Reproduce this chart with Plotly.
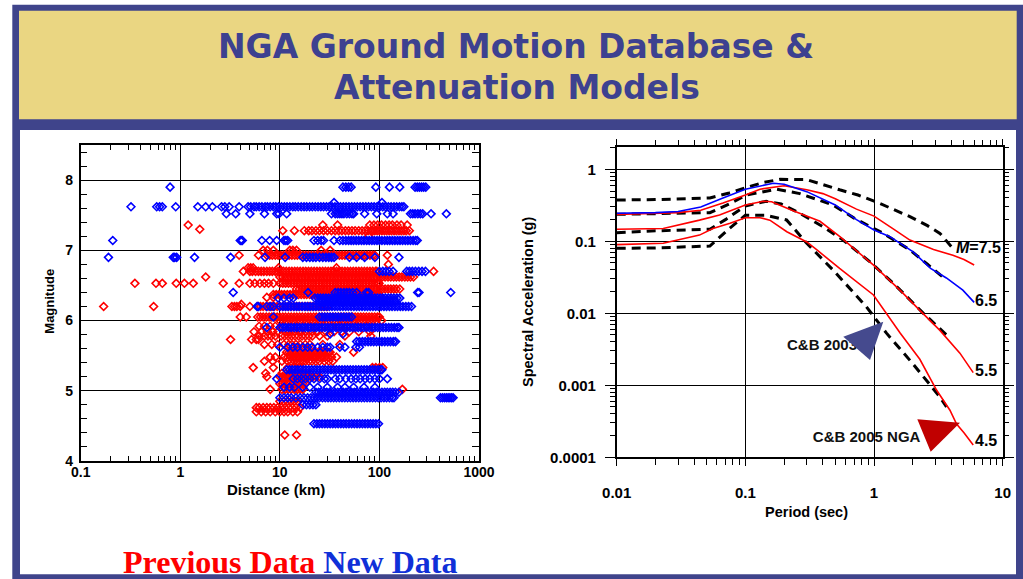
import plotly.graph_objects as go

W, H = 1023, 579
def px(x): return x / W
def py(y): return 1 - y / H

# ---------------- Left chart data: (magnitude, [distances km]) ----------------
red_events = [
    (7.36, [1.2, 27, 38, 80, 88, 96, 105, 115, 125, 135, 150, 165, 190]),
    (7.30, [1.57]),
    (7.28, [10.7, 14, 17.6, 19.5, 21, 23, 25, 27.5, 30, 33, 36, 39, 42, 45.5, 49, 53, 57, 62, 67, 72, 77, 82, 86, 90, 95, 100, 106, 112, 118, 125, 132, 140, 148, 157, 166, 176, 186, 200]),
    (7.20, [78]),
    (7.00, [6.8, 7.5, 8.6, 12.6, 13.5, 14.7, 26, 32]),
    (6.93, [3.9, 6.1, 7.4, 7.9, 8.4, 9.0, 9.6, 10.2, 10.9, 11.6, 12.4, 13.2, 14.1, 15, 16, 17.1, 18.2, 19.4, 20.7, 22.1, 23.6, 25.2, 26.9, 28.7, 30.6, 32.6, 34.8, 37.1, 39.6, 42.2, 45, 48, 51.2, 54.6, 58.2, 62.1, 66.2, 70.6, 75.3, 80.3, 85.6, 90, 120]),
    (6.80, [123]),
    (6.75, [4.8, 5.1, 5.4, 9.7, 37]),
    (6.70, [4.3, 5.0, 5.3, 5.7, 6.1, 6.5, 6.9, 7.4, 7.9, 8.4, 9.0, 9.6, 10.2, 10.9, 11.6, 12.4, 13.2, 14.1, 15, 16, 17.1, 18.2, 19.4, 20.7, 22.1, 23.6, 25.2, 26.9, 28.7, 30.6, 32.6, 34.8, 37.1, 39.6, 42.2, 45, 48, 51.2, 54.6, 58.2, 62.1, 66.2, 70.6, 75.3, 80.3, 85.6, 91.3, 94, 350]),
    (6.62, [1.8, 10, 10.7, 11.4, 12.1, 12.9, 13.8, 14.7, 15.7, 16.7, 17.8, 19, 20.3, 21.6, 23, 24.6, 26.2, 27.9, 29.8, 31.8, 33.9, 36.1, 38.5, 41, 43.7, 46.6, 49.7, 53, 56.5, 60.2, 64.2, 68.5, 73, 77.8, 83, 88.5, 94.3, 101, 107, 114, 122, 130, 139, 148, 158, 168, 180, 192, 205, 220]),
    (6.53, [0.35, 0.57, 0.66, 0.91, 1.1, 1.35, 2.7, 3.9, 5.0, 5.6, 6.3, 7.0, 7.7, 8.6, 10, 10.7, 11.4, 12.2, 13, 13.8, 14.8, 15.8, 16.8, 17.9, 19.1, 20.4, 21.7, 23.2, 24.7, 26.3, 28.1, 29.9, 31.9, 34, 36.3, 38.7, 41.2, 44, 46.9, 50, 53.3, 56.8, 60.6, 64.6, 68.9, 73.4, 78.3, 83.5, 89, 94.9, 99]),
    (6.45, [14.7, 15.7, 16.7, 17.8, 19, 20.3, 21.6, 23, 24.6, 26.2, 27.9, 29.8, 31.8, 33.9, 36.1, 38.5, 41, 43.7, 46.6, 49.7, 53, 56.5, 60.2, 64.2, 68.5, 73, 77.8, 83, 88.5, 94.3, 101, 107, 114, 122, 130, 139, 148, 160]),
    (6.37, [8.6, 9.2, 9.8, 10.4, 11.1, 11.9, 12.7, 13.5, 14.4, 15.4, 16.4, 17.5, 18.6, 19.9, 21.2, 22.6, 24.1, 25.7, 27.4, 29.2, 31.1, 33.2, 35.4, 37.7, 40.2, 42.9, 45.7, 48.7, 52, 55.4, 59.1, 63, 67.2, 71.6, 76.4, 81.4, 86.8, 92.6, 98.7]),
    (6.33, [7.4, 8.6]),
    (6.23, [4.1]),
    (6.20, [0.17, 0.54, 3.3, 3.5, 3.7, 4.0, 5.0, 6.0, 6.4, 6.8, 7.3, 7.8, 8.3, 8.8, 9.4, 10, 10.7, 11.4, 12.2, 13, 13.9, 14.8, 15.8, 16.8, 18, 19.2, 20.4, 21.8, 23.2, 24.8, 26.4, 28.2, 30]),
    (6.05, [4.0, 4.6, 6.0, 6.4, 6.8, 7.3, 7.8, 8.3, 8.8, 9.4, 10, 10.7, 11.4, 12.2, 13, 13.9, 14.8, 15.8, 16.8, 18, 19.2, 20.4, 21.8, 23.2, 24.8, 26.4, 28.2, 30, 32, 34.2, 36.4, 38.9, 41.4, 44.2, 47.1, 50.2, 53.6, 57.1, 60.9, 65, 69.3, 73.9, 78.8, 84, 89.6, 95.5, 100]),
    (6.00, [10, 10.8, 11.7, 12.6, 13.6, 14.7, 15.9, 17.2, 18.5, 20, 21.6, 23.3, 25.2, 27.2, 29.4, 31.7, 34.3, 37, 40, 43.2, 46.6, 50.3, 54.4, 58.7, 63.4, 68.5, 74, 79.9, 86.2, 93, 105]),
    (5.92, [6.2, 7, 8, 9, 11, 13, 15, 17.5, 20, 24, 28, 33, 40, 48, 60, 75]),
    (5.84, [5.5, 6.5, 7.5, 8.5, 9.5, 11.5, 12.5, 14, 16, 18, 21, 24, 29, 35, 42, 50, 62, 80]),
    (5.78, [6.2, 7, 7.6, 8.2, 9, 10.3, 11.2, 12.1, 13.1, 14.2, 15.4, 16.7, 18.1, 19.6, 21.2, 25, 30, 45, 82]),
    (5.73, [3.2, 5.2, 5.8, 6.1]),
    (5.66, [7, 8.3, 9.5, 11, 12.3, 13.2, 14.5, 16, 18, 20, 27, 40]),
    (5.55, [11.7, 12.4, 13.2, 14, 14.9, 15.8, 16.8, 17.9, 19, 20.2, 21.5, 22.8, 24.3, 25.8, 27.4, 29.2, 31, 32, 55]),
    (5.48, [8, 9, 11, 12, 12.8, 13.6, 14.5, 15.4, 16.4, 17.4, 18.5, 19.7, 21, 22.3, 23.7, 25.2, 26.8, 28.5, 30.3, 33, 37]),
    (5.42, [7, 8.5, 10.5, 12, 13, 14, 15, 16, 17, 18, 19.5, 21, 23, 25, 28, 31, 34]),
    (5.33, [5.4, 8.6, 12, 14, 16, 85, 92, 100, 108]),
    (5.25, [7.2, 10.5, 11.5, 12.5, 13.5, 15, 16.5, 18, 20]),
    (5.20, [7.4, 10, 10.6, 11.2, 11.9, 12.6, 13.4, 14.2, 15, 16, 17, 18, 19, 20.3, 21.5, 23, 25]),
    (5.10, [10, 10.6, 11.2, 11.9, 12.6, 13.4, 14.2, 15.1, 16, 17, 18]),
    (5.02, [8.0, 10.5, 11.3, 12.1, 13, 14, 15, 16, 17, 170]),
    (4.85, [10, 11, 12, 13, 14, 15]),
    (4.76, [5.8, 6.2, 6.8, 7.4, 8.0, 8.7, 9.5, 10.3, 11.2, 12.2, 13.3, 14.5, 16]),
    (4.70, [5.8, 6.5, 7.2, 8.0, 9.0, 10, 11, 12, 13.5, 15]),
    (4.37, [11.2, 14.7]),
]

blue_events = [
    (7.90, [0.79, 43, 46, 49, 52, 92, 126, 160, 228, 240, 252, 265, 278, 292]),
    (7.68, [35, 106]),
    (7.62, [0.32, 0.58, 0.62, 0.66, 0.9, 1.5, 1.8, 2.1, 2.6, 2.8, 3.1, 3.9, 4.8, 5.1, 5.5, 5.8, 6.2, 6.6, 7.1, 7.5, 8.0, 8.6, 9.1, 9.7, 10.4, 11.1, 11.8, 12.6, 13.5, 14.3, 15.3, 16.4, 17.5, 18.6, 19.9, 21.2, 22.7, 24.2, 25.8, 27.5, 29.4, 31.3, 33.5, 35.7, 38.1, 40.6, 43.4, 46.3, 49.4, 52.7, 56.2, 60, 64, 68.3, 72.9, 77.8, 83.1, 88.6, 94.6, 101, 108, 115, 123, 131, 140, 149, 159, 168, 176]),
    (7.52, [2.9, 3.6, 5.0, 7.0, 9.3, 9.8, 11.7, 33, 36, 38, 40, 42, 44, 47, 50, 53, 55, 71, 94, 120, 137, 205, 216, 228, 243, 258, 272, 330, 470]),
    (7.14, [0.21, 4.0, 4.1, 4.2, 6.6, 7.9, 9.3, 11, 11.5, 12, 22, 24, 26, 27.5, 35, 40, 43, 46, 49, 52, 55, 58.5, 62, 66, 70, 74.5, 79, 84, 89, 94.5, 100, 106, 113, 120, 127, 135, 143, 152, 161, 171, 182, 193, 205, 218, 231, 240]),
    (6.90, [0.19, 0.85, 0.88, 0.92, 1.39, 3.2, 7.1, 11.3, 17, 18.5, 20, 21.5, 23, 25, 27, 29, 31, 33, 35, 50, 59, 71, 90, 157]),
    (6.70, [100, 108, 116, 125, 137, 188, 200, 214, 230, 248, 268, 290]),
    (6.40, [3.4, 19.2, 36, 38.5, 41, 44, 47, 50, 54, 59, 74, 78, 242, 250, 520]),
    (6.32, [9.6, 11, 12.5, 13.6, 22.5, 24, 25.5, 27.2, 29, 30.8, 32.8, 35, 37.2, 39.6, 42.2, 45, 47.9, 51, 54.3, 57.8, 61.6, 65.6, 69.8, 74.3, 79.2, 84.3, 89.8, 95.6, 102, 108, 115, 123, 131, 140, 150, 160]),
    (6.27, [25, 26.6, 28.3, 30.2, 32.1, 34.2, 36.4, 38.8, 41.3, 44, 46.8, 49.9, 53.1, 56.6, 60.2, 64.1, 68.3, 72.7, 77.5, 82.5, 87.8, 93.5, 99.6, 106, 113, 120, 128, 136, 145]),
    (6.20, [5.9, 6.1, 7.4, 8.0, 8.6, 10, 10.7, 11.4, 12.1, 12.9, 13.8, 14.7, 15.6, 16.7, 17.8, 18.9, 20.1, 21.5, 22.9, 24.4, 26, 27.7, 29.5, 31.4, 33.4, 35.6, 37.9, 40.4, 43, 45.8, 48.8, 52, 55.4, 59, 62.8, 66.9, 71.3, 75.9, 80.8, 86.1, 91.7, 97.7, 104, 111, 118, 126, 134, 143, 152, 162, 172, 184, 196, 210]),
    (6.05, [8.6, 25, 26.6, 28.3, 30.1, 32, 34, 36.2, 38.5, 41, 43.6, 46.4, 49.4, 52.5]),
    (5.90, [7.4, 10, 10.7, 11.4, 12.2, 13, 13.9, 14.8, 15.8, 16.9, 18, 19.2, 20.5, 21.9, 23.3, 24.9, 26.5, 28.3, 30.2, 32.2, 34.3, 36.6, 39, 41.6, 44.4, 47.3, 50.5, 53.8, 57.4, 61.2, 65.3, 69.6, 74.2, 79.2, 84.4, 90, 96, 102, 109, 116, 124, 132, 141, 150, 157]),
    (5.81, [32, 43]),
    (5.70, [59, 63, 67.5, 72, 77, 82, 87.5, 93.5, 100, 106, 113, 121, 129, 138, 145]),
    (5.62, [10, 12, 13.5, 15, 17, 19, 21, 24, 27, 30, 32, 40, 45, 58, 63]),
    (5.30, [11.7, 12.5, 13.3, 14.2, 15.1, 16.1, 17.2, 18.3, 19.5, 20.8, 22.2, 23.7, 25.2, 26.9, 28.7, 30.6, 32.6, 34.7, 37, 39.5, 42.1, 44.9, 47.8, 51, 54.4, 58, 61.8, 65.9, 70.3, 74.9, 79.9, 85.2, 90.8, 96.8, 103, 106]),
    (5.17, [9.3, 13.6, 15, 16.5, 18, 20, 22, 25, 28, 30, 36, 40, 46, 52, 58, 64, 72, 80, 90, 100, 120]),
    (5.05, [11, 12.5, 14, 17, 20, 24, 30, 38, 45, 55, 70, 90]),
    (4.98, [23, 24.5, 26.1, 27.8, 29.6, 31.6, 33.6, 35.8, 38.2, 40.7, 43.4, 46.2, 49.2, 52.5, 55.9, 59.6, 63.5, 67.7, 72.1, 76.9, 81.9, 87.3, 93, 99.1, 106, 113, 120, 128, 136, 145, 157]),
    (4.90, [10, 11, 12, 13, 14.5, 16, 17.5, 19, 20.5, 22, 23.5, 25, 26.8, 28.6, 30.5, 32.5, 34.7, 37, 39.5, 42.1, 44.9, 47.9, 51.1, 54.5, 58.1, 62, 66.1, 70.5, 75.2, 80.2, 85.5, 91.2, 97.3, 104, 111, 118, 126, 134, 140, 410, 430, 450, 470, 490, 510, 530, 550]),
    (4.80, [17, 18.5, 20, 21.5, 23]),
    (4.53, [22, 23.5, 25, 26.6, 28.3, 30.1, 32, 34, 36.2, 38.5, 41, 43.6, 46.4, 49.4, 52.6, 56, 59.6, 63.4, 67.5, 71.8, 76.4, 81.3, 86.5, 92, 98]),
]

dist_ticks = [0.1, 1, 10, 100, 1000]
dist_ticktext = ["0.1", "1", "10", "100", "1000"]
mag_ticks = [4, 5, 6, 7, 8]

# ---------------- Right chart data: spectra (period s, SA g) ----------------
nga75_T = [0.01, 0.02, 0.03, 0.045, 0.067, 0.1, 0.13, 0.2, 0.3, 0.4, 0.5, 0.73, 1.0, 1.4, 1.9, 2.9, 4.1, 5.0, 6.0]
nga75_SA = [0.237, 0.245, 0.25, 0.27, 0.34, 0.44, 0.53, 0.59, 0.52, 0.46, 0.39, 0.28, 0.224, 0.15, 0.104, 0.077, 0.064, 0.056, 0.047]
nga65_T = [0.01, 0.02, 0.03, 0.045, 0.067, 0.1, 0.165, 0.2, 0.3, 0.5, 0.73, 1.0, 1.33, 2.0, 2.75, 3.65, 4.9, 6.0]
nga65_SA = [0.245, 0.25, 0.26, 0.30, 0.40, 0.53, 0.64, 0.62, 0.49, 0.32, 0.20, 0.144, 0.116, 0.072, 0.042, 0.031, 0.021, 0.0142]
nga55_T = [0.01, 0.023, 0.044, 0.063, 0.1, 0.138, 0.16, 0.23, 0.38, 0.543, 0.986, 1.59, 2.27, 3.25, 4.65, 5.9]
nga55_SA = [0.147, 0.151, 0.197, 0.232, 0.32, 0.36, 0.355, 0.27, 0.19, 0.116, 0.047, 0.021, 0.011, 0.0058, 0.0028, 0.0015]
nga45_T = [0.01, 0.023, 0.044, 0.056, 0.076, 0.1, 0.13, 0.155, 0.21, 0.3, 0.36, 0.54, 0.99, 1.25, 1.6, 2.27, 3.06, 3.89, 4.38, 5.0, 5.9]
nga45_SA = [0.09, 0.094, 0.122, 0.151, 0.178, 0.213, 0.213, 0.197, 0.136, 0.098, 0.076, 0.042, 0.018, 0.01, 0.0053, 0.0023, 0.00086, 0.00045, 0.00029, 0.00022, 0.000148]

cb75_T = [0.01, 0.02, 0.053, 0.075, 0.102, 0.14, 0.186, 0.3, 0.54, 0.75, 1.11, 1.9, 2.6, 3.25, 4.0]
cb75_SA = [0.375, 0.38, 0.40, 0.47, 0.56, 0.66, 0.726, 0.72, 0.52, 0.44, 0.336, 0.22, 0.165, 0.129, 0.084]
cb65_T = [0.01, 0.02, 0.053, 0.075, 0.102, 0.174, 0.265, 0.48, 0.7, 1.18, 1.9, 2.6, 3.66]
cb65_SA = [0.237, 0.24, 0.25, 0.33, 0.44, 0.53, 0.46, 0.32, 0.21, 0.129, 0.076, 0.048, 0.029]
cb55_T = [0.01, 0.02, 0.053, 0.07, 0.1, 0.145, 0.19, 0.266, 0.4, 0.575, 0.93, 1.5, 2.42, 3.66]
cb55_SA = [0.132, 0.14, 0.147, 0.2, 0.31, 0.36, 0.33, 0.244, 0.16, 0.104, 0.052, 0.0235, 0.01, 0.005]
cb45_T = [0.01, 0.02, 0.053, 0.075, 0.1, 0.145, 0.209, 0.3, 0.48, 0.87, 1.25, 2.0, 3.25, 3.66]
cb45_SA = [0.08, 0.081, 0.086, 0.15, 0.23, 0.23, 0.198, 0.094, 0.04, 0.0124, 0.0053, 0.002, 0.00069, 0.0005]

period_ticks = [0.01, 0.1, 1, 10]
period_ticktext = ["0.01", "0.1", "1", "10"]
sa_ticks = [0.0001, 0.001, 0.01, 0.1, 1]
sa_ticktext = ["0.0001", "0.001", "0.01", "0.1", "1"]
curve_labels = ["<i>M</i>=7.5", "6.5", "5.5", "4.5"]

# ---------------- styles ----------------
FRAME = "#3F448B"
YELLOW = "#EAD682"
RED = "#FF0000"
BLUE = "#0000FF"
SANS = "Liberation Sans, Arial, sans-serif"

fig = go.Figure()

def flatten(events):
    xs, ys = [], []
    for m, ds in events:
        for d in ds:
            xs.append(d)
            ys.append(m)
    return xs, ys

for events, col in [(red_events, RED), (blue_events, BLUE)]:
    xs, ys = flatten(events)
    fig.add_trace(go.Scatter(x=xs, y=ys, mode="markers", xaxis="x", yaxis="y",
                             marker=dict(symbol="diamond-open", size=6, color=col,
                                         line=dict(width=1.6, color=col)),
                             showlegend=False, hoverinfo="skip"))

dash_style = dict(color="black", width=3, dash="9px,6px")
for T, SA in [(cb75_T, cb75_SA), (cb65_T, cb65_SA), (cb55_T, cb55_SA), (cb45_T, cb45_SA)]:
    fig.add_trace(go.Scatter(x=T, y=SA, mode="lines", xaxis="x2", yaxis="y2",
                             line=dash_style, showlegend=False, hoverinfo="skip"))
for T, SA, col in [(nga75_T, nga75_SA, RED), (nga55_T, nga55_SA, RED),
                   (nga45_T, nga45_SA, RED), (nga65_T, nga65_SA, BLUE)]:
    fig.add_trace(go.Scatter(x=T, y=SA, mode="lines", xaxis="x2", yaxis="y2",
                             line=dict(color=col, width=1.6), showlegend=False, hoverinfo="skip"))

# labels that sit under the arrow triangles (text traces, so shapes can cover them)
fig.add_trace(go.Scatter(x=[0.394, 0.876], y=[0.00352, 0.000184], mode="text",
                         text=["C&B 2003", "C&B 2005 NGA"], xaxis="x2", yaxis="y2",
                         textposition="middle center",
                         textfont=dict(family=SANS, size=15, color="#111111", weight="bold"),
                         showlegend=False, hoverinfo="skip"))

# ---------------- axes ----------------
tickfont = dict(family=SANS, size=14, color="black", weight="bold")
minor_dec_left = [m * 10 ** e for e in range(-1, 3) for m in range(2, 10)]
minor_dec_T = [m * 10 ** e for e in range(-2, 1) for m in range(2, 10)]
minor_dec_SA = [m * 10 ** e for e in range(-4, 1) for m in range(2, 10) if m * 10 ** e <= 2.02]

fig.update_layout(
    width=W, height=H, margin=dict(l=0, r=0, t=0, b=0, pad=0, autoexpand=False),
    paper_bgcolor="white", plot_bgcolor="white", showlegend=False,
    xaxis=dict(domain=[px(80.7), px(479)], type="log", range=[-1, 3],
               tickvals=dist_ticks, ticktext=dist_ticktext, ticks="inside", ticklen=8,
               tickwidth=1, tickcolor="black", showline=True, linecolor="black", linewidth=1.5,
               mirror="allticks", showgrid=True, gridcolor="black", gridwidth=1,
               minor=dict(tickvals=minor_dec_left, ticks="inside", ticklen=5, tickcolor="black", showgrid=False),
               tickfont=tickfont, zeroline=False, anchor="y", ticklabelstandoff=-3),
    yaxis=dict(domain=[py(461), py(145)], range=[4, 8.5], tickvals=mag_ticks,
               ticks="inside", ticklen=7, tickcolor="black", showline=True, linecolor="black",
               linewidth=1.5, mirror="allticks", showgrid=True, gridcolor="black", gridwidth=1,
               minor=dict(dtick=0.2, ticks="inside", ticklen=7, tickcolor="black", showgrid=False),
               tickfont=tickfont, zeroline=False, anchor="x", ticklabelstandoff=3),
    xaxis2=dict(domain=[px(616.7), px(1002.7)], type="log", range=[-2, 1],
                tickvals=period_ticks, ticktext=period_ticktext, ticks="outside", ticklen=7,
                tickcolor="black", showline=True, linecolor="black", linewidth=1.5,
                mirror="allticks", showgrid=True, gridcolor="black", gridwidth=1,
                minor=dict(tickvals=minor_dec_T, ticks="outside", ticklen=6, tickcolor="black", showgrid=False),
                tickfont=dict(family=SANS, size=15, color="black", weight="bold"),
                zeroline=False, anchor="y2", ticklabelstandoff=14),
    yaxis2=dict(domain=[py(457.3), py(147.3)], type="log", range=[-4, 0.306],
                tickvals=sa_ticks, ticktext=sa_ticktext, ticks="outside", ticklen=10,
                tickcolor="black", showline=True, linecolor="black", linewidth=1.5,
                mirror="allticks", showgrid=True, gridcolor="black", gridwidth=1,
                minor=dict(tickvals=minor_dec_SA, ticks="outside", ticklen=5, tickcolor="black", showgrid=False),
                tickfont=dict(family=SANS, size=15, color="black", weight="bold"),
                zeroline=False, anchor="x2", ticklabelstandoff=6),
)

# ---------------- slide frame ----------------
shapes = [
    dict(type="rect", xref="paper", yref="paper", x0=px(12.3), x1=px(1023), y0=py(579), y1=py(4.7),
         fillcolor=FRAME, line=dict(width=0), layer="below"),
    dict(type="rect", xref="paper", yref="paper", x0=px(19), x1=px(1016.7), y0=py(119.3), y1=py(10.7),
         fillcolor=YELLOW, line=dict(width=0), layer="below"),
    dict(type="rect", xref="paper", yref="paper", x0=px(20), x1=px(1016), y0=py(574.3), y1=py(130),
         fillcolor="white", line=dict(width=0), layer="below"),
]
tri_blue = [(843.3, 336.7), (883.3, 321.7), (870, 360)]
tri_red = [(917.3, 419.3), (960, 422.7), (930.7, 451.7)]
for tri, col in [(tri_blue, "#454A8E"), (tri_red, "#C00000")]:
    path = "M " + " L ".join(f"{px(a):.5f},{py(b):.5f}" for a, b in tri) + " Z"
    shapes.append(dict(type="path", xref="paper", yref="paper", path=path,
                       fillcolor=col, line=dict(width=0), layer="above"))
fig.update_layout(shapes=shapes)

# ---------------- text ----------------
def ann(text, x, y, size, color="black", family=SANS, angle=0, weight="bold", xanchor="center"):
    fig.add_annotation(text=text, x=px(x), y=py(y), xref="paper", yref="paper",
                       showarrow=False, textangle=angle, xanchor=xanchor, yanchor="middle",
                       font=dict(family=family, size=size, color=color, weight=weight))

TITLE_FONT = "DejaVu Sans, Verdana, sans-serif"
ann("NGA Ground Motion Database &", 516, 47, 33, color="#3D4190", family=TITLE_FONT)
ann("Attenuation Models", 517, 88, 33, color="#3D4190", family=TITLE_FONT)

ann("Magnitude", 50, 301.7, 13, angle=-90)
ann("Distance (km)", 276, 489.5, 15)
ann("Spectral Acceleration (g)", 528, 302, 14.5, angle=-90)
ann("Period (sec)", 806.7, 511.7, 14.5)

label_pos = [(978, 247), (986, 300.7), (986, 370.7), (986, 440.7)]
for t, (x, y) in zip(curve_labels, label_pos):
    ann(t, x, y, 16)

ann("<span style='color:#FF0000'>Previous Data</span> <span style='color:#1030D8'>New Data</span>",
    121, 562, 32, family="Liberation Serif, Times New Roman, serif", xanchor="left")

fig.write_html("out.html", config={"displayModeBar": False},
               post_script="document.body.style.margin='0';document.body.style.overflow='hidden';")
